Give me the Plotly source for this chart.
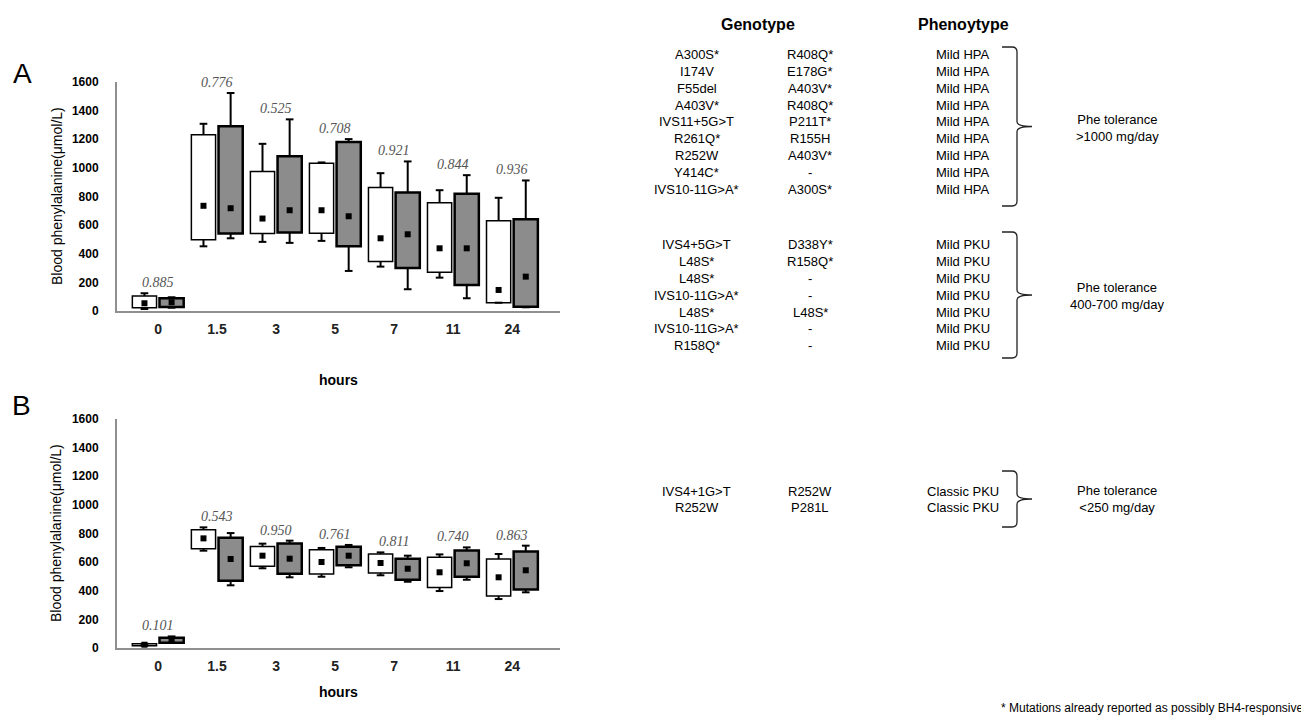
import plotly.graph_objects as go

# page body has an 8px margin, so the figure is sized to fit the window exactly
PAD = 8
W, H = 1309 - PAD, 722 - PAD

hours = ["0", "1.5", "3", "5", "7", "11", "24"]

# Panel A (blood Phe, µmol/L) - white group
a_white_q1 = [23, 497, 541, 543, 345, 271, 58]
a_white_q3 = [105, 1231, 975, 1033, 863, 756, 630]
a_white_lo = [14, 452, 483, 490, 310, 233, 58]
a_white_hi = [124, 1308, 1168, 1038, 963, 844, 791]
a_white_mean = [54, 735, 646, 704, 508, 438, 147]
# Panel A - gray group
a_gray_q1 = [28, 541, 548, 452, 301, 182, 30]
a_gray_q3 = [89, 1290, 1082, 1180, 828, 819, 641]
a_gray_lo = [23, 508, 476, 280, 152, 89, 26]
a_gray_hi = [96, 1523, 1339, 1201, 1045, 949, 912]
a_gray_mean = [61, 718, 704, 662, 536, 438, 240]
a_pvalues = ["0.885", "0.776", "0.525", "0.708", "0.921", "0.844", "0.936"]

# Panel B - white group
b_white_q1 = [16, 694, 571, 517, 524, 422, 363]
b_white_q3 = [30, 827, 710, 687, 657, 634, 622]
b_white_lo = [16, 680, 557, 498, 508, 398, 342]
b_white_hi = [30, 843, 729, 699, 668, 654, 657]
b_white_mean = [23, 766, 645, 601, 594, 529, 494]
# Panel B - gray group
b_gray_q1 = [37, 470, 519, 578, 477, 498, 408]
b_gray_q3 = [72, 771, 731, 708, 624, 682, 675]
b_gray_lo = [37, 438, 494, 564, 463, 477, 389]
b_gray_hi = [81, 803, 750, 720, 645, 703, 715]
b_gray_mean = [58, 622, 624, 645, 554, 592, 543]
b_pvalues = ["0.101", "0.543", "0.950", "0.761", "0.811", "0.740", "0.863"]

# Table
hpa_allele1 = ["A300S*", "I174V", "F55del", "A403V*", "IVS11+5G>T", "R261Q*", "R252W", "Y414C*", "IVS10-11G>A*"]
hpa_allele2 = ["R408Q*", "E178G*", "A403V*", "R408Q*", "P211T*", "R155H", "A403V*", "-", "A300S*"]
hpa_pheno = ["Mild HPA"] * 9
pku_allele1 = ["IVS4+5G>T", "L48S*", "L48S*", "IVS10-11G>A*", "L48S*", "IVS10-11G>A*", "R158Q*"]
pku_allele2 = ["D338Y*", "R158Q*", "-", "-", "L48S*", "-", "-"]
pku_pheno = ["Mild PKU"] * 7
cls_allele1 = ["IVS4+1G>T", "R252W"]
cls_allele2 = ["R252W", "P281L"]
cls_pheno = ["Classic PKU", "Classic PKU"]
tolerances = ["Phe tolerance<br>>1000 mg/day", "Phe tolerance<br>400-700 mg/day", "Phe tolerance<br><250 mg/day"]

GRAY = "#8c8c8c"
AXC = "#8f8f8f"
OFF = 0.23
BW = 0.41
CAP = 0.065


def px(x):
    return (x - PAD) / W


def py(y):
    return 1 - (y - PAD) / H


fig = go.Figure()


def add_group(q1, q3, lo, hi, mean, offset, fill, lw, xa, ya):
    xs = [i + offset for i in range(len(q1))]
    fig.add_trace(go.Bar(
        x=xs, base=q1, y=[b - a for a, b in zip(q1, q3)], width=BW,
        marker=dict(color=fill, line=dict(color="black", width=lw)),
        xaxis=xa, yaxis=ya, showlegend=False, hoverinfo="skip"))
    wx, wy = [], []
    for x, a, b, l, h in zip(xs, q1, q3, lo, hi):
        wx += [x, x, None, x - CAP, x + CAP, None, x, x, None, x - CAP, x + CAP, None]
        wy += [b, h, None, h, h, None, a, l, None, l, l, None]
    fig.add_trace(go.Scatter(x=wx, y=wy, mode="lines", line=dict(color="black", width=2),
                             xaxis=xa, yaxis=ya, showlegend=False, hoverinfo="skip"))
    fig.add_trace(go.Scatter(x=xs, y=mean, mode="markers",
                             marker=dict(symbol="square", size=6, color="black"),
                             xaxis=xa, yaxis=ya, showlegend=False, hoverinfo="skip"))


add_group(a_white_q1, a_white_q3, a_white_lo, a_white_hi, a_white_mean, -OFF, "white", 1.5, "x", "y")
add_group(a_gray_q1, a_gray_q3, a_gray_lo, a_gray_hi, a_gray_mean, OFF, GRAY, 2.5, "x", "y")
add_group(b_white_q1, b_white_q3, b_white_lo, b_white_hi, b_white_mean, -OFF, "white", 1.5, "x2", "y2")
add_group(b_gray_q1, b_gray_q3, b_gray_lo, b_gray_hi, b_gray_mean, OFF, GRAY, 2.5, "x2", "y2")

annotations = []
pfont = dict(family="Liberation Serif", size=14, color="#555555", style="italic")
for i, p in enumerate(a_pvalues):
    annotations.append(dict(x=i, y=max(a_white_hi[i], a_gray_hi[i]), xref="x", yref="y", text=p,
                            showarrow=False, yanchor="bottom", yshift=1, font=pfont))
for i, p in enumerate(b_pvalues):
    annotations.append(dict(x=i, y=max(b_white_hi[i], b_gray_hi[i]), xref="x2", yref="y2", text=p,
                            showarrow=False, yanchor="bottom", yshift=1, font=pfont))

sans = "Liberation Sans, Arial, sans-serif"


def ann(x, y, text, size=13, bold=False, xanchor="center", textangle=0, color="black"):
    annotations.append(dict(x=px(x), y=py(y), xref="paper", yref="paper", text=text, showarrow=False,
                            xanchor=xanchor, yanchor="middle", textangle=textangle,
                            font=dict(family=sans, size=size, color=color,
                                      weight="bold" if bold else "normal")))


# panel letters & axis titles
ann(22, 73, "A", size=28)
ann(21, 405, "B", size=28)
ann(57, 196, "Blood phenylalanine(μmol/L)", size=14, textangle=-90)
ann(56, 533, "Blood phenylalanine(μmol/L)", size=14, textangle=-90)
ann(338, 380, "hours", size=14, bold=True)
ann(338, 692, "hours", size=14, bold=True)

# table
ann(758, 24, "Genotype", size=16, bold=True)
ann(963, 24, "Phenoytype", size=16, bold=True)
C1, C2, C3 = 697, 810, 963
RS = 16.75
for k in range(len(hpa_allele1)):
    yy = 55 + RS * k
    ann(C1, yy, hpa_allele1[k])
    ann(C2, yy, hpa_allele2[k])
    ann(C3, yy, hpa_pheno[k])
for k in range(len(pku_allele1)):
    yy = 245 + RS * k
    ann(C1, yy, pku_allele1[k])
    ann(C2, yy, pku_allele2[k])
    ann(C3, yy, pku_pheno[k])
for k in range(len(cls_allele1)):
    yy = 491 + RS * k
    ann(C1, yy, cls_allele1[k])
    ann(C2, yy, cls_allele2[k])
    ann(C3, yy, cls_pheno[k])
ann(1117, 128, tolerances[0])
ann(1117, 296, tolerances[1])
ann(1117, 499, tolerances[2])
ann(1305, 708, "* Mutations already reported as possibly BH4-responsive", size=12, xanchor="right")


def bracket(top, bot, x0=1002, x1=1017, tip=1032):
    mid = (top + bot) / 2
    r = 5
    pts = (f"M {px(x0)},{py(top)} L {px(x1 - r)},{py(top)} Q {px(x1)},{py(top)} {px(x1)},{py(top + r)} "
           f"L {px(x1)},{py(mid - r)} Q {px(x1)},{py(mid)} {px(tip)},{py(mid)} "
           f"Q {px(x1)},{py(mid)} {px(x1)},{py(mid + r)} "
           f"L {px(x1)},{py(bot - r)} Q {px(x1)},{py(bot)} {px(x1 - r)},{py(bot)} L {px(x0)},{py(bot)}")
    return dict(type="path", xref="paper", yref="paper", path=pts,
                line=dict(color="#222222", width=1.3))


shapes = [bracket(47, 206), bracket(232, 358), bracket(471, 527)]

xcommon = dict(range=[-0.695, 6.81], tickvals=list(range(7)), ticktext=hours, showgrid=False,
               zeroline=False, showline=True, linecolor=AXC, linewidth=2, ticks="",
               tickfont=dict(family=sans, size=14, color="#222", weight="bold"),
               ticklabelstandoff=4, automargin=False, domain=[px(117), px(560)], fixedrange=True)
ycommon = dict(range=[0, 1600], tickvals=list(range(0, 1601, 200)), showgrid=False, zeroline=False,
               showline=True, linecolor=AXC, linewidth=2, ticks="",
               tickfont=dict(family=sans, size=12, color="black", weight="bold"),
               ticklabelstandoff=14, automargin=False, fixedrange=True)

fig.update_layout(
    width=W, height=H, margin=dict(l=0, r=0, t=0, b=0),
    paper_bgcolor="white", plot_bgcolor="white", barmode="overlay", showlegend=False,
    xaxis=dict(**xcommon, anchor="y"),
    yaxis=dict(**ycommon, domain=[py(311), py(82)], anchor="x"),
    xaxis2=dict(**xcommon, anchor="y2"),
    yaxis2=dict(**ycommon, domain=[py(648), py(419)], anchor="x2"),
    annotations=annotations, shapes=shapes,
)

fig.write_html("out.html")
